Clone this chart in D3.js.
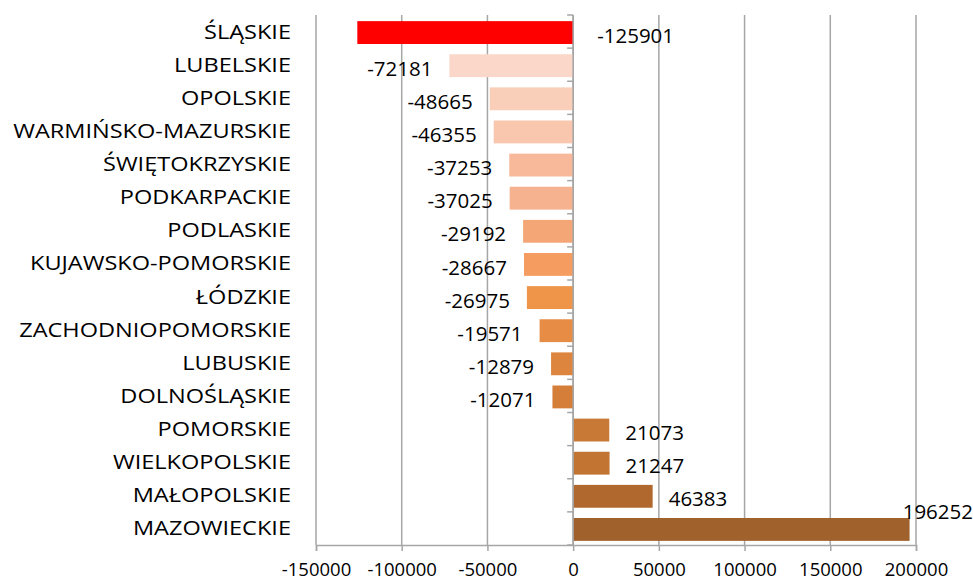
<!DOCTYPE html>
<html lang="pl">
<head>
<meta charset="UTF-8">
<title>saldo</title>
<style>
  body { margin: 0; background: #fff; }
  text { font-family: "Open Sans", "Noto Sans", sans-serif; fill: #000; }
</style>
</head>
<body>
<script src="https://cdn.jsdelivr.net/npm/d3@7/dist/d3.min.js"></script>
<script>
const regions = ['ŚLĄSKIE', 'LUBELSKIE', 'OPOLSKIE', 'WARMIŃSKO-MAZURSKIE', 'ŚWIĘTOKRZYSKIE',
    'PODKARPACKIE', 'PODLASKIE', 'KUJAWSKO-POMORSKIE', 'ŁÓDZKIE', 'ZACHODNIOPOMORSKIE',
    'LUBUSKIE', 'DOLNOŚLĄSKIE', 'POMORSKIE', 'WIELKOPOLSKIE', 'MAŁOPOLSKIE', 'MAZOWIECKIE'];
const values = [-125901, -72181, -48665, -46355, -37253, -37025, -29192, -28667, -26975,
    -19571, -12879, -12071, 21073, 21247, 46383, 196252];
const barColors = ['#ff0000', '#fad7c8', '#f9cfba', '#f8c7ad', '#f7b999', '#f6b28f',
    '#f5a677', '#f59d60', '#ee954a', '#e68c45', '#dd853f', '#d57e3a', '#c97936',
    '#c27433', '#b0682f', '#a0612d'];
const xTicks = [-150000, -100000, -50000, 0, 50000, 100000, 150000, 200000];

const width = 973, height = 581;
const mLeft = 316, mRight = 916, mTop = 15, mBottom = 545;

let svg = d3.select('body').append('svg')
    .attr('width', width)
    .attr('height', height);

let x = d3.scaleLinear().domain([-150000, 200000]).range([mLeft, mRight]);
let y = d3.scaleBand().domain(regions).range([mTop, mBottom]).paddingInner(0.31).paddingOuter(0.155);
let band = d3.scaleBand().domain(regions).range([mTop, mBottom]);

// plain hyphen minus like the original
const fmt = d => String(d);

// vertical gridlines
svg.selectAll('.grid')
    .data(xTicks)
    .enter()
    .append('line')
    .attr('x1', d => x(d)).attr('x2', d => x(d))
    .attr('y1', mTop).attr('y2', mBottom)
    .style('stroke', '#a6a6a6')
    .style('stroke-width', 1.5);

// bars
svg.selectAll('.bar')
    .data(values)
    .enter()
    .append('rect')
    .attr('x', d => Math.min(x(0), x(d)))
    .attr('width', d => Math.abs(x(d) - x(0)))
    .attr('y', (d, i) => y(regions[i]) + 1)
    .attr('height', y.bandwidth())
    .attr('fill', (d, i) => barColors[i]);

// y axis line with ticks between categories
svg.append('line')
    .attr('x1', x(0)).attr('x2', x(0))
    .attr('y1', mTop).attr('y2', mBottom)
    .style('stroke', '#a6a6a6').style('stroke-width', 1.5);
svg.selectAll('.ytick')
    .data(d3.range(regions.length + 1))
    .enter()
    .append('line')
    .attr('x1', x(0) - 6).attr('x2', x(0))
    .attr('y1', i => mTop + i * band.step())
    .attr('y2', i => mTop + i * band.step())
    .style('stroke', '#a6a6a6').style('stroke-width', 1.5);

// x axis
let xAxis = d3.axisBottom(x).tickValues(xTicks).tickSize(6).tickPadding(12).tickFormat(fmt);
let gx = svg.append('g').attr('transform', `translate(0,${mBottom})`).call(xAxis);
gx.select('.domain').style('stroke', '#a6a6a6').style('stroke-width', 1.5);
gx.selectAll('.tick line').style('stroke', '#a6a6a6').style('stroke-width', 1.5);
gx.selectAll('.tick text').style('font-size', '18.5px')
    .style('font-family', '"Open Sans", "Noto Sans", sans-serif').style('fill', '#000');

// category labels (original font is wider, stretch horizontally to fit)
let cats = svg.selectAll('.cat')
    .data(regions)
    .enter()
    .append('text')
    .attr('x', 0)
    .attr('y', 0)
    .attr('dy', '0.35em')
    .attr('text-anchor', 'end')
    .style('font-size', '20px')
    .text(d => d);
let longest = d3.max(cats.nodes(), n => n.getComputedTextLength());
let k = Math.max(1, 278 / longest);
cats.attr('transform', d => `translate(291,${band(d) + band.step() / 2}) scale(${k},1)`);

// value labels
svg.selectAll('.val')
    .data(values)
    .enter()
    .append('text')
    .attr('x', (d, i) => {
        if (i === 0) return x(0) + 24;
        if (i === values.length - 1) return width;
        return d < 0 ? x(d) - 17 : x(d) + 16;
    })
    .attr('y', (d, i) => band(regions[i]) + band.step() / 2 + (i === values.length - 1 ? -17 : 4))
    .attr('dy', '0.35em')
    .attr('text-anchor', (d, i) => {
        if (i === 0) return 'start';
        if (i === values.length - 1) return 'end';
        return d < 0 ? 'end' : 'start';
    })
    .style('font-size', '20.5px')
    .text(fmt);
</script>
</body>
</html>
